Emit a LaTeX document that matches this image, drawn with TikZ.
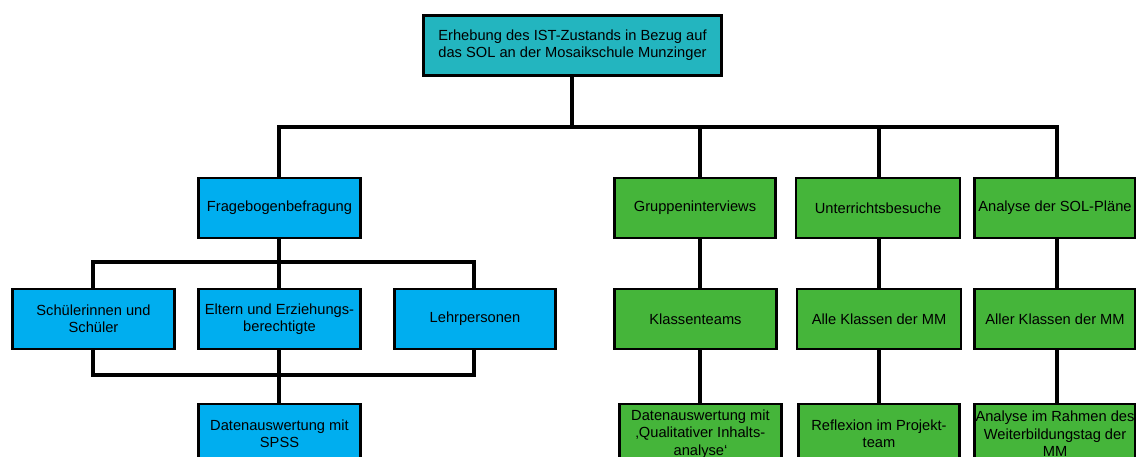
\documentclass[tikz,border=0pt]{standalone}
\usepackage{fontspec}
\setmainfont{Liberation Sans}
\definecolor{teal1}{HTML}{23B5BF}
\definecolor{blue1}{HTML}{00AEEF}
\definecolor{green1}{HTML}{45B53A}
\begin{document}
\begin{tikzpicture}[x=0.75pt,y=-0.75pt,
  bx/.style={draw=black, line width=2.2pt, inner sep=0pt, align=center,
    font=\fontsize{11}{13}\selectfont, line join=miter},
  tbox/.style={bx, fill=teal1},
  bbox/.style={bx, fill=blue1},
  gbox/.style={bx, fill=green1},
  conn/.style={draw=black, line width=2.6pt, line join=miter}]
\useasboundingbox (0,0) rectangle (1136,457);

% top
\node[tbox, minimum width=224pt, minimum height=44.5pt] (top) at (572.5,45.5)
  {Erhebung des IST-Zustands in Bezug auf\\das SOL an der Mosaikschule Munzinger};

% row 1
\node[bbox, minimum width=122pt, minimum height=45pt] (frag) at (279.5,208) {Fragebogenbefragung};
\node[gbox, minimum width=121pt, minimum height=45pt] (grup) at (695,208) {Gruppeninterviews};
\node[gbox, minimum width=123pt, minimum height=45pt] (unt) at (878,208) {Unterrichtsbesuche};
\node[gbox, minimum width=121pt, minimum height=45pt] (ana) at (1055,208) {Analyse der SOL-Pläne};

% row 2
\node[bbox, minimum width=122pt, minimum height=45pt] (sch) at (93.5,319) {Schülerinnen und\\Schüler};
\node[bbox, minimum width=122pt, minimum height=45pt] (elt) at (279.5,319) {Eltern und Erziehungs-\\berechtigte};
\node[bbox, minimum width=121pt, minimum height=45pt] (leh) at (475,319) {Lehrpersonen};
\node[gbox, minimum width=122pt, minimum height=45pt] (kla) at (695.5,319) {Klassenteams};
\node[gbox, minimum width=123pt, minimum height=45pt] (all) at (879,319) {Alle Klassen der MM};
\node[gbox, minimum width=121pt, minimum height=45pt] (alr) at (1055,319) {Aller Klassen der MM};

% row 3
\node[bbox, minimum width=122pt, minimum height=45pt] (spss) at (279.5,434) {Datenauswertung mit\\SPSS};
\node[gbox, minimum width=122pt, minimum height=45pt] (qia) at (700.5,434) {Datenauswertung mit\\‚Qualitativer Inhalts-\\analyse‘};
\node[gbox, minimum width=121pt, minimum height=45pt] (ref) at (879,434) {Reflexion im Projekt-\\team};
\node[gbox, minimum width=121pt, minimum height=45pt] (wei) at (1055,434) {Analyse im Rahmen des\\Weiterbildungstag der\\MM};

% bus coordinates
\coordinate (tl) at (279,127);
\coordinate (tg) at (700,127);
\coordinate (tu) at (879,127);
\coordinate (tr) at (1057,127);
\coordinate (fl) at (93,262);
\coordinate (fr) at (474,262);
\coordinate (ul) at (93,375);
\coordinate (ur) at (474,375);
\coordinate (um) at (279,375);

% top connectors
\draw[conn] (top.south -| 572,0) -- (572,127);
\draw[conn] (frag.north -| tl) |- (tr) -- (ana.north -| tr);
\draw[conn] (tg) -- (grup.north -| tg);
\draw[conn] (tu) -- (unt.north -| tu);

% Fragebogen branch
\draw[conn] (frag.south -| um) -- (elt.north -| um);
\draw[conn] (sch.north -| fl) |- (fr) -- (leh.north -| fr);
\draw[conn] (sch.south -| ul) |- (ur) -- (leh.south -| ur);
\draw[conn] (elt.south -| um) -- (spss.north -| um);

% green branches
\draw[conn] (grup.south -| tg) -- (kla.north -| tg);
\draw[conn] (kla.south -| tg) -- (qia.north -| tg);
\draw[conn] (unt.south -| tu) -- (all.north -| tu);
\draw[conn] (all.south -| tu) -- (ref.north -| tu);
\draw[conn] (ana.south -| tr) -- (alr.north -| tr);
\draw[conn] (alr.south -| tr) -- (wei.north -| tr);
\end{tikzpicture}
\end{document}
